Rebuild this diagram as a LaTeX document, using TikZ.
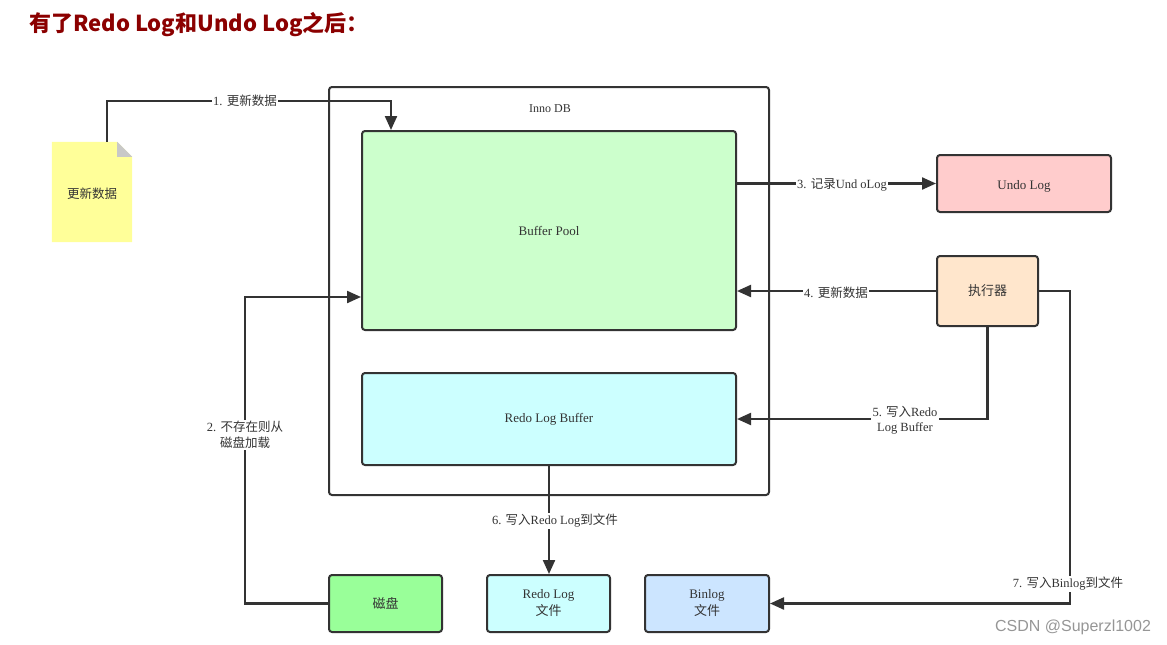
\documentclass[tikz,border=0pt]{standalone}
\usepackage{fontspec}
\setmainfont{Liberation Serif}
\newfontfamily\cjk{Noto Sans CJK SC}
\newfontfamily\wmfont{Liberation Sans}
\usetikzlibrary{arrows.meta,calc}
\definecolor{ink}{HTML}{333333}
\definecolor{titlered}{RGB}{139,0,0}
\definecolor{poolfill}{HTML}{CCFFCC}
\definecolor{redofill}{HTML}{CCFFFF}
\definecolor{undofill}{HTML}{FFCCCC}
\definecolor{execfill}{HTML}{FFE6CC}
\definecolor{diskfill}{HTML}{99FF99}
\definecolor{binfill}{HTML}{CCE5FF}
\definecolor{notefill}{HTML}{FFFF99}
\definecolor{foldfill}{HTML}{C8C8C8}
\definecolor{wmgray}{RGB}{150,150,150}
\tikzset{
  box/.style={draw=ink, line width=2pt, rounded corners=3pt, text=ink,
    font=\fontsize{13pt}{16pt}\selectfont, align=center, inner sep=0pt},
  conn/.style={draw=ink, line width=2.2pt,
    -{Triangle[length=14pt,width=12pt]}},
  lbl/.style={fill=white, text=ink, inner sep=1.5pt, align=center,
    font=\fontsize{12.5pt}{15.5pt}\selectfont}
}
\begin{document}
\begin{tikzpicture}[x=1pt, y=-1pt]
\useasboundingbox (0,0) rectangle (1167,645);

% heading
\node[anchor=west, text=titlered, inner sep=0pt,
  font=\cjk\bfseries\fontsize{22pt}{26pt}\selectfont] (title) at (29,25)
  {有了Redo Log和Undo Log之后：};

% storage engine frame and its buffers
\node[box, minimum width=440pt, minimum height=408pt] (inno) at (549,291) {};
\node[text=ink, font=\fontsize{12pt}{14pt}\selectfont] (innolbl) at (550,109) {Inno DB};
\node[box, fill=poolfill, minimum width=374pt, minimum height=199pt] (bp) at (549,230.5) {Buffer Pool};
\node[box, fill=redofill, minimum width=374pt, minimum height=92pt] (rlb) at (549,419) {Redo Log Buffer};

% outside components
\node[box, fill=undofill, minimum width=174pt, minimum height=57pt] (undo) at (1024,183.5) {\raisebox{-3pt}[\height][\depth]{Undo Log}};
\node[box, fill=execfill, minimum width=101pt, minimum height=70pt] (exec) at (987.5,291) {\cjk 执行器};
\node[box, fill=diskfill, minimum width=113pt, minimum height=57pt] (disk) at (385.5,603.5) {\cjk 磁盘};
\node[box, fill=redofill, minimum width=123pt, minimum height=57pt] (rlf) at (548.5,603.5) {Redo Log\\[1pt]{\cjk 文件}};
\node[box, fill=binfill, minimum width=124pt, minimum height=57pt] (binlog) at (707,603.5) {Binlog\\[1pt]{\cjk 文件}};

% note with folded corner
\node[minimum width=80pt, minimum height=100pt, inner sep=0pt] (note) at (92,192) {};
\fill[notefill] (note.north west) -- ([xshift=-15pt]note.north east)
  -- ([yshift=-15pt]note.north east) -- (note.south east) -- (note.south west) -- cycle;
\fill[foldfill] ([xshift=-15pt]note.north east) -- ([yshift=-15pt]note.north east)
  -- ([xshift=-15pt,yshift=-15pt]note.north east) -- cycle;
\node[text=ink, font=\cjk\fontsize{12.5pt}{15pt}\selectfont] (notetext) at (92,194) {更新数据};

% 1: update request into the buffer pool
\coordinate (c1) at (391,101);
\draw[conn] ([xshift=15pt]note.north) |- (c1) -- (c1 |- bp.north);
\node[lbl] (l1) at (245,101) {1. {\cjk 更新数据}};

% 2: load from disk when missing
\coordinate (c2) at (245,297);
\draw[conn] (disk.west) -| (c2) -- (c2 -| bp.west);
\node[lbl] (l2) at (245,435) {2. {\cjk 不存在则从}\\{\cjk 磁盘加载}};

% 3: record undo log
\draw[conn] (bp.east |- undo.west) -- (undo.west);
\node[lbl] (l3) at (842,185) {3. {\cjk 记录}Und oLog};

% 4: executor updates data
\draw[conn] (exec.west) -- (exec.west -| bp.east);
\node[lbl] (l4) at (836,293) {4. {\cjk 更新数据}};

% 5: executor writes redo log buffer
\draw[conn] (exec.south) |- (rlb.east);
\node[lbl] (l5) at (905,420) {5. {\cjk 写入}Redo\\Log Buffer};

% 6: flush redo log to file
\draw[conn] (rlb.south) -- (rlb.south |- rlf.north);
\node[lbl] (l6) at (555,521) {6. {\cjk 写入}Redo Log{\cjk 到文件}};

% 7: write binlog to file
\coordinate (c7) at (1070,291);
\draw[conn] (exec.east) -- (c7) |- (binlog.east);
\node[lbl] (l7) at (1068,584) {7. {\cjk 写入}Binlog{\cjk 到文件}};

% watermark
\node[text=wmgray, font=\wmfont\fontsize{16pt}{18pt}\selectfont] (wm) at (1073,627) {CSDN @Superzl1002};
\end{tikzpicture}
\end{document}
